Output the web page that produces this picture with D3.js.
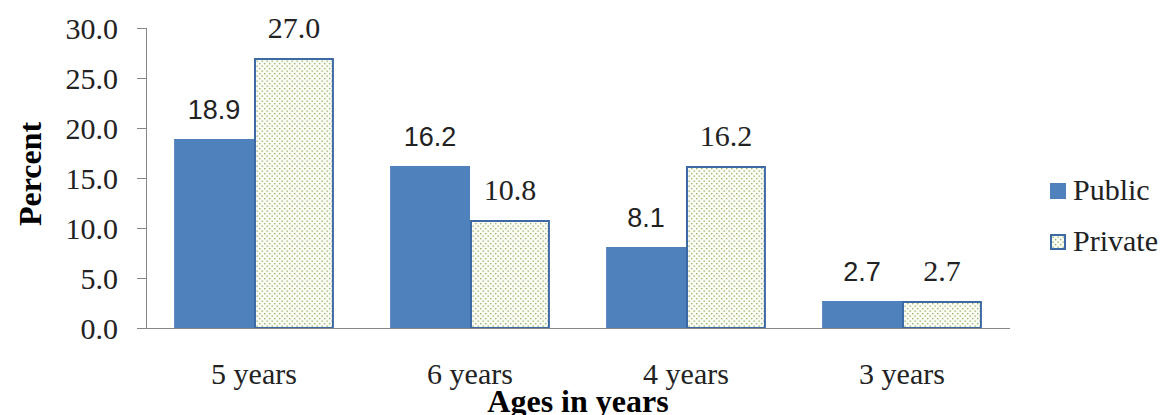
<!DOCTYPE html>
<html>
<head>
<meta charset="utf-8">
<script src="https://cdn.jsdelivr.net/npm/d3@7"></script>
<style>
  body { margin: 0; background: #fff; }
</style>
</head>
<body>
<div id="chart"></div>
<script>
var categories = ['5 years', '6 years', '4 years', '3 years']
var seriesNames = ['Public', 'Private']
var publicValues = [18.9, 16.2, 8.1, 2.7]
var privateValues = [27.0, 10.8, 16.2, 2.7]
var yTicks = [0, 5, 10, 15, 20, 25, 30]

var margin = { top: 28, left: 146, right: 154, bottom: 87 }
var width = 1164 - margin.left - margin.right
var height = 415 - margin.top - margin.bottom

var svg = d3
  .select('#chart')
  .append('svg')
  .attr('width', 1164)
  .attr('height', 415)

// dotted fill for the private bars
var pat = svg
  .append('defs')
  .append('pattern')
  .attr('id', 'dots')
  .attr('patternUnits', 'userSpaceOnUse')
  .attr('width', 5)
  .attr('height', 5)
pat.append('rect').attr('width', 5).attr('height', 5).attr('fill', '#fbfcf6')
pat.append('rect').attr('x', 0).attr('y', 0).attr('width', 1.3).attr('height', 1.3).attr('fill', '#8fae5c')
pat.append('rect').attr('x', 2.5).attr('y', 2.5).attr('width', 1.3).attr('height', 1.3).attr('fill', '#8fae5c')

var g = svg
  .append('g')
  .attr('transform', 'translate(' + margin.left + ',' + margin.top + ')')

var xPositionScale = d3
  .scaleBand()
  .domain(categories)
  .range([0, width])
  .paddingInner(0.26)
  .paddingOuter(0.13)

var xSeries = d3
  .scaleBand()
  .domain(seriesNames)
  .range([0, xPositionScale.bandwidth()])

var yPositionScale = d3
  .scaleLinear()
  .domain([0, 30])
  .range([height, 0])

var serif = 'Liberation Serif'
var sans = 'Liberation Sans'

// y axis
var yAxis = d3
  .axisLeft(yPositionScale)
  .tickValues(yTicks)
  .tickFormat(d3.format('.1f'))
  .tickSize(9)
  .tickPadding(19)
g.append('g')
  .attr('class', 'axis y-axis')
  .call(yAxis)
g.selectAll('.y-axis path').attr('stroke', '#868686').attr('d', 'M0.5,' + height + 'V0')
g.selectAll('.y-axis line').attr('stroke', '#868686')
g.selectAll('.y-axis text')
  .attr('font-family', serif)
  .attr('font-size', 30)
  .attr('dy', '0.34em')
  .attr('fill', '#222')

var data = categories.map(function(c, i) {
  return { cat: c, values: [publicValues[i], privateValues[i]] }
})

var groups = g
  .selectAll('.group')
  .data(data)
  .enter()
  .append('g')
  .attr('transform', function(d) {
    return 'translate(' + xPositionScale(d.cat) + ',0)'
  })

function pairs(d) {
  return d.values.map(function(v, j) {
    return { series: seriesNames[j], value: v }
  })
}

groups
  .selectAll('rect')
  .data(pairs)
  .enter()
  .append('rect')
  .attr('x', function(d) {
    return xSeries(d.series) + (d.series === 'Private' ? 1 : 0)
  })
  .attr('y', function(d) {
    return yPositionScale(d.value) + (d.series === 'Private' ? 1 : 0)
  })
  .attr('width', function(d) {
    return xSeries.bandwidth() - (d.series === 'Private' ? 2 : 0)
  })
  .attr('height', function(d) {
    return height - yPositionScale(d.value) - (d.series === 'Private' ? 1 : 0)
  })
  .attr('fill', function(d) {
    return d.series === 'Public' ? '#4f81bd' : 'url(#dots)'
  })
  .attr('stroke', function(d) {
    return d.series === 'Public' ? 'none' : '#3d6aa5'
  })
  .attr('stroke-width', 2)

groups
  .selectAll('.label')
  .data(pairs)
  .enter()
  .append('text')
  .attr('class', 'label')
  .attr('x', function(d) {
    return xSeries(d.series) + xSeries.bandwidth() / 2
  })
  .attr('y', function(d) {
    return yPositionScale(d.value) - 20
  })
  .attr('text-anchor', 'middle')
  .attr('font-family', function(d) {
    return d.series === 'Public' ? sans : serif
  })
  .attr('font-size', function(d) {
    return d.series === 'Public' ? 27 : 30
  })
  .attr('fill', '#222')
  .text(function(d) {
    return d.value.toFixed(1)
  })

// x axis
var xAxis = d3.axisBottom(xPositionScale).tickSize(0).tickPadding(35)
g.append('g')
  .attr('class', 'axis x-axis')
  .attr('transform', 'translate(0,' + height + ')')
  .call(xAxis)
g.selectAll('.x-axis path').attr('stroke', '#868686').attr('d', 'M0,0.5H' + width)
g.selectAll('.x-axis text')
  .attr('font-family', serif)
  .attr('font-size', 30)
  .attr('fill', '#222')

g.append('text')
  .text('Ages in years')
  .attr('x', width / 2)
  .attr('y', height + 84)
  .attr('text-anchor', 'middle')
  .attr('font-family', serif)
  .attr('font-weight', 'bold')
  .attr('font-size', 32)

g.append('text')
  .text('Percent')
  .attr('transform', 'translate(' + (-105) + ',' + (height / 2 - 4) + ') rotate(-90)')
  .attr('text-anchor', 'middle')
  .attr('font-family', serif)
  .attr('font-weight', 'bold')
  .attr('font-size', 32)

// legend
var legend = svg
  .append('g')
  .attr('transform', 'translate(1050,183)')
var items = legend
  .selectAll('.item')
  .data(seriesNames)
  .enter()
  .append('g')
  .attr('transform', function(d, i) {
    return 'translate(0,' + i * 51 + ')'
  })
items
  .append('rect')
  .attr('x', function(d) { return d === 'Private' ? 1 : 0 })
  .attr('y', function(d) { return d === 'Private' ? 1 : 0 })
  .attr('width', function(d) { return d === 'Private' ? 14 : 16 })
  .attr('height', function(d) { return d === 'Private' ? 14 : 16 })
  .attr('fill', function(d) { return d === 'Public' ? '#4f81bd' : 'url(#dots)' })
  .attr('stroke', function(d) { return d === 'Public' ? 'none' : '#3d6aa5' })
  .attr('stroke-width', 2)
items
  .append('text')
  .attr('x', 23)
  .attr('y', 17)
  .attr('font-family', serif)
  .attr('font-size', 30)
  .attr('fill', '#222')
  .text(function(d) { return d })
</script>
</body>
</html>
